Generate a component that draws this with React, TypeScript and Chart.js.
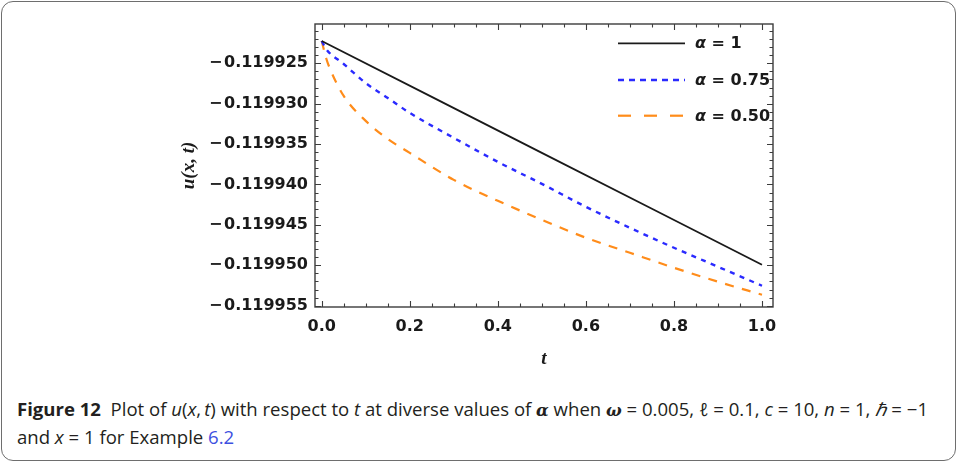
import React, { useEffect, useLayoutEffect, useRef, useState } from "react";
import { Chart, registerables } from "chart.js";

Chart.register(...registerables);

// Solution u(x,t) versus t for three fractional orders
const tAlpha1 = [0, 0.25, 0.5, 0.75, 1.0];
const uAlpha1 = [-0.11992224, -0.11992916, -0.11993609, -0.11994301, -0.11994993];

const tAlpha075 = [0, 0.01, 0.05, 0.1, 0.15, 0.2, 0.3, 0.4, 0.5, 0.6, 0.7, 0.8, 0.9, 1.0];
const uAlpha075 = [
  -0.11992224, -0.11992323, -0.11992509, -0.11992744, -0.11992929, -0.11993114,
  -0.11993423, -0.1199372, -0.11993992, -0.11994276, -0.11994536, -0.11994783,
  -0.11995018, -0.11995253,
];

const tAlpha050 = [0, 0.01, 0.02, 0.05, 0.1, 0.15, 0.2, 0.3, 0.4, 0.5, 0.6, 0.7, 0.8, 0.9, 1.0];
const uAlpha050 = [
  -0.11992224, -0.11992435, -0.11992583, -0.11992904, -0.11993213, -0.11993436,
  -0.11993609, -0.11993943, -0.11994202, -0.11994437, -0.11994659, -0.11994845,
  -0.1199503, -0.11995203, -0.11995364,
];

const seriesLabels = ["α = 1", "α = 0.75", "α = 0.50"];

const xTicks = [0, 0.2, 0.4, 0.6, 0.8, 1.0];
const yTicks = [-0.119925, -0.11993, -0.119935, -0.11994, -0.119945, -0.11995, -0.119955];

const X_MIN = -0.0152;
const X_MAX = 1.025;
const Y_MIN = -0.11995516;
const Y_MAX = -0.11992014;

const toPoints = (ts: number[], us: number[]) => ts.map((t, i) => ({ x: t, y: us[i] }));

const TICK_FONT = { family: "'DejaVu Sans', sans-serif", size: 16, weight: "bold" as const };
const FRAME_COLOR = "#3c3c3c";

const legendDash: number[][] = [[], [6, 5], [13, 13]];

// Mathematica-style frame with inward major/minor ticks on all four sides
const framePlugin = {
  id: "frameTicks",
  afterDatasetsDraw(chart: any) {
    const { ctx, chartArea: a, scales } = chart;
    const xs = scales.x;
    const ys = scales.y;
    ctx.save();
    ctx.strokeStyle = FRAME_COLOR;
    ctx.lineWidth = 1.4;
    ctx.strokeRect(a.left, a.top, a.right - a.left, a.bottom - a.top);

    ctx.lineWidth = 1.1;
    ctx.beginPath();
    for (let k = 0; k <= 20; k++) {
      const v = k * 0.05;
      const px = Math.round(xs.getPixelForValue(v)) + 0.5;
      const len = k % 4 === 0 ? 6 : 3.5;
      ctx.moveTo(px, a.bottom);
      ctx.lineTo(px, a.bottom - len);
      ctx.moveTo(px, a.top);
      ctx.lineTo(px, a.top + len);
    }
    for (let k = 119920; k <= 119955; k++) {
      const v = -k * 1e-6;
      if (v > Y_MAX || v < Y_MIN) continue;
      const py = Math.round(ys.getPixelForValue(v)) + 0.5;
      const len = k % 5 === 0 ? 6 : 3.5;
      ctx.moveTo(a.left, py);
      ctx.lineTo(a.left + len, py);
      ctx.moveTo(a.right, py);
      ctx.lineTo(a.right - len, py);
    }
    ctx.stroke();
    ctx.restore();
  },
  afterDraw(chart: any) {
    const { ctx, chartArea: a } = chart;
    const rows = [19.3, 56, 91.7];
    ctx.save();
    chart.data.datasets.forEach((ds: any, i: number) => {
      const y = a.top + rows[i];
      ctx.strokeStyle = ds.borderColor;
      ctx.lineWidth = ds.borderWidth;
      ctx.setLineDash(legendDash[i]);
      ctx.beginPath();
      ctx.moveTo(a.right - 155, y);
      ctx.lineTo(a.right - 88, y);
      ctx.stroke();
      ctx.setLineDash([]);
      const label: string = seriesLabels[i];
      const sym = label.charAt(0);
      const rest = label.slice(1);
      ctx.fillStyle = "#1a1a1a";
      ctx.textBaseline = "middle";
      ctx.textAlign = "left";
      ctx.font = "italic bold 16px 'DejaVu Sans', sans-serif";
      const x0 = a.right - 78;
      ctx.fillText(sym, x0, y + 1);
      const w = ctx.measureText(sym).width;
      ctx.font = "bold 16px 'DejaVu Sans', sans-serif";
      ctx.fillText(rest, x0 + w, y + 1);
    });
    ctx.restore();
  },
};

function PlotCanvas() {
  const ref = useRef<HTMLCanvasElement>(null);
  useEffect(() => {
    if (!ref.current) return;
    const chart = new Chart(ref.current, {
      type: "line",
      data: {
        datasets: [
          {
            label: seriesLabels[0],
            data: toPoints(tAlpha1, uAlpha1),
            borderColor: "#1a1a1a",
            borderWidth: 1.8,
            pointRadius: 0,
            tension: 0,
          },
          {
            label: seriesLabels[1],
            data: toPoints(tAlpha075, uAlpha075),
            borderColor: "#2a2aff",
            borderWidth: 2.4,
            borderDash: [5, 5.5],
            pointRadius: 0,
            cubicInterpolationMode: "monotone",
          },
          {
            label: seriesLabels[2],
            data: toPoints(tAlpha050, uAlpha050),
            borderColor: "#ff8c1a",
            borderWidth: 2.2,
            borderDash: [9, 8.5],
            pointRadius: 0,
            cubicInterpolationMode: "monotone",
          },
        ],
      },
      options: {
        animation: false,
        responsive: false,
        maintainAspectRatio: false,
        devicePixelRatio: 1,
        layout: { padding: { left: 180, right: 185, top: 24, bottom: 10 } },
        plugins: { legend: { display: false }, tooltip: { enabled: false } },
        scales: {
          x: {
            type: "linear",
            min: X_MIN,
            max: X_MAX,
            grid: { display: false, drawTicks: false },
            border: { display: false },
            afterBuildTicks: (s: any) => {
              s.ticks = xTicks.map((v) => ({ value: v }));
            },
            afterFit: (s: any) => {
              s.height = 63;
            },
            ticks: {
              autoSkip: false,
              maxRotation: 0,
              padding: 10,
              color: "#1a1a1a",
              font: TICK_FONT,
              callback: (v: any) => Number(v).toFixed(1),
            },
            title: {
              display: true,
              text: "t",
              color: "#1a1a1a",
              padding: 0,
              font: { family: "'Liberation Serif', serif", size: 19, style: "italic", weight: "bold" },
            },
          },
          y: {
            type: "linear",
            min: Y_MIN,
            max: Y_MAX,
            grid: { display: false, drawTicks: false },
            border: { display: false },
            afterBuildTicks: (s: any) => {
              s.ticks = yTicks.map((v) => ({ value: v }));
            },
            afterFit: (s: any) => {
              s.width = 135;
            },
            ticks: {
              autoSkip: false,
              padding: 7,
              color: "#1a1a1a",
              font: TICK_FONT,
              callback: (v: any) => "\u2212\u200A" + Math.abs(Number(v)).toFixed(6),
            },
            title: {
              display: true,
              text: "u(x, t)",
              color: "#1a1a1a",
              padding: 0,
              font: { family: "'Liberation Serif', serif", size: 19, style: "italic", weight: "bold", lineHeight: 1 },
            },
          },
        },
      },
      plugins: [framePlugin],
    } as any);
    return () => chart.destroy();
  }, []);
  return (
    <canvas
      ref={ref}
      width={958}
      height={380}
      style={{ position: "absolute", left: 0, top: 0, width: 958, height: 380 }}
    />
  );
}

const CAPTION_WIDTH = 911;

function Caption() {
  const lineRef = useRef<HTMLSpanElement>(null);
  const [scale, setScale] = useState(1);
  useLayoutEffect(() => {
    if (!lineRef.current) return;
    const w = lineRef.current.getBoundingClientRect().width;
    if (w > 0) setScale(CAPTION_WIDTH / w);
  }, []);
  const sym: React.CSSProperties = { fontFamily: "'DejaVu Serif', serif", fontStyle: "italic", fontWeight: "bold", fontSize: 16 };
  return (
    <div
      style={{
        position: "absolute",
        left: 16.7,
        top: 395.5,
        fontFamily: "'Open Sans', sans-serif",
        fontSize: 18,
        lineHeight: "26px",
        color: "#231f20",
        whiteSpace: "nowrap",
        transform: `scaleX(${scale})`,
        transformOrigin: "left top",
      }}
    >
      <span ref={lineRef} style={{ display: "inline-block" }}>
        <b>Figure 12</b>&nbsp;&nbsp;Plot of <i>u</i>(<i>x</i>,&thinsp;<i>t</i>) with respect to <i>t</i> at diverse
        values of <span style={sym}>α</span> when <span style={sym}>ω</span> = 0.005, <i>ℓ</i> = 0.1, <i>c</i> = 10,{" "}
        <i>n</i> = 1, <i>ℏ</i> = −1
      </span>
      <br />
      <span>
        and <i>x</i> = 1 for Example <span style={{ color: "#3d50e0" }}>6.2</span>
      </span>
    </div>
  );
}

export default function App() {
  return (
    <div style={{ position: "absolute", left: 0, top: 0, width: 958, height: 463, background: "#fff" }}>
      <div
        style={{
          position: "absolute",
          left: 1,
          top: 1,
          width: 953,
          height: 458,
          border: "1.5px solid #6e6e6e",
          borderRadius: 12,
        }}
      />
      <PlotCanvas />
      <Caption />
    </div>
  );
}
